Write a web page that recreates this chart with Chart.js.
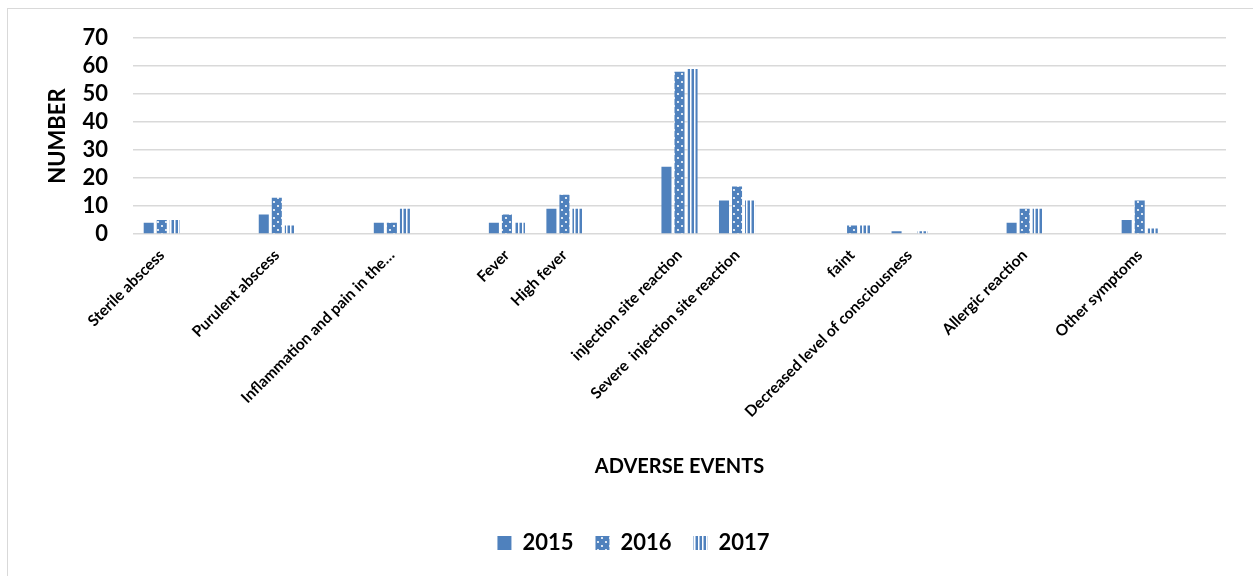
<!DOCTYPE html>
<html>
<head>
<meta charset="utf-8">
<script src="https://cdn.jsdelivr.net/npm/chart.js@4/dist/chart.umd.min.js"></script>
<style>
  html, body { margin: 0; padding: 0; background: #ffffff; }
  #wrap { position: absolute; left: 0; top: 0; width: 1253px; height: 576px; }
</style>
</head>
<body>
<div id="wrap"><canvas id="c" width="1253" height="576"></canvas></div>
<script>
// Categories (empty strings are the unlabeled, empty slots in the original chart)
const categories = [
  "Sterile abscess", "", "Purulent abscess", "", "Inflammation and pain in the\u2026", "",
  "Fever", "High fever", "", "injection site reaction", "Severe  injection site reaction", "",
  "faint", "Decreased level of consciousness", "", "Allergic reaction", "", "Other symptoms", ""
];
const seriesNames = ["2015", "2016", "2017"];
const values2015 = [4, null, 7, null, 4, null, 4, 9, null, 24, 12, null, 0, 1, null, 4, null, 5, null];
const values2016 = [5, null, 13, null, 4, null, 7, 14, null, 58, 17, null, 3, 0, null, 9, null, 12, null];
const values2017 = [5, null, 3, null, 9, null, 4, 9, null, 59, 12, null, 3, 1, null, 9, null, 2, null];
const yTicks = [0, 10, 20, 30, 40, 50, 60, 70];

const BLUE = '#4f81bd';

function dotPattern() {
  const c = document.createElement('canvas');
  c.width = 8; c.height = 8;
  const x = c.getContext('2d');
  x.fillStyle = BLUE; x.fillRect(0, 0, 8, 8);
  x.fillStyle = '#ffffff';
  x.beginPath(); x.arc(2, 2, 1.1, 0, Math.PI * 2); x.fill();
  x.beginPath(); x.arc(6, 6, 1.1, 0, Math.PI * 2); x.fill();
  return x.createPattern(c, 'repeat');
}
function stripePattern() {
  const c = document.createElement('canvas');
  c.width = 4; c.height = 4;
  const x = c.getContext('2d');
  x.fillStyle = '#ffffff'; x.fillRect(0, 0, 4, 4);
  x.fillStyle = BLUE; x.fillRect(0, 0, 2, 4);
  x.fillStyle = '#a9c1e0'; x.fillRect(3, 0, 1, 4);
  return x.createPattern(c, 'repeat');
}

const borderPlugin = {
  id: 'outerBorder',
  beforeDraw(chart) {
    const ctx = chart.ctx;
    ctx.save();
    ctx.fillStyle = '#ffffff';
    ctx.fillRect(0, 0, chart.width, chart.height);
    ctx.strokeStyle = '#d9d9d9';
    ctx.lineWidth = 1;
    ctx.strokeRect(7.5, 8.5, 1300, 700);
    ctx.restore();
  }
};

const FONT = 'Lato, "Open Sans", sans-serif';

new Chart(document.getElementById('c'), {
  type: 'bar',
  data: {
    labels: categories,
    datasets: [
      { label: seriesNames[0], data: values2015, backgroundColor: BLUE },
      { label: seriesNames[1], data: values2016, backgroundColor: dotPattern() },
      { label: seriesNames[2], data: values2017, backgroundColor: stripePattern() }
    ]
  },
  options: {
    responsive: false,
    animation: false,
    categoryPercentage: 0.68,
    barPercentage: 0.77,
    layout: { padding: { left: 41, right: 27, top: 38, bottom: 12 } },
    plugins: {
      legend: {
        position: 'bottom',
        labels: {
          color: '#000',
          font: { family: FONT, size: 22, weight: 'bold' },
          boxWidth: 14, boxHeight: 14, padding: 22
        }
      },
      tooltip: { enabled: false }
    },
    scales: {
      x: {
        grid: { display: false, drawTicks: false },
        border: { display: false },
        ticks: {
          color: '#000', autoSkip: false, minRotation: 45, maxRotation: 45, padding: 12,
          font: { family: FONT, size: 15.5, weight: 'bold' }
        },
        title: {
          display: true, text: 'ADVERSE EVENTS', color: '#000',
          font: { family: FONT, size: 20, weight: 'bold' },
          padding: { top: 31, bottom: 31 }
        },
        afterFit(scale) { scale.height = 276; }
      },
      y: {
        min: 0, max: 70,
        afterBuildTicks(scale) { scale.ticks = yTicks.map(v => ({ value: v })); },
        grid: { color: '#d9d9d9', lineWidth: 1.5, drawTicks: false },
        border: { display: false },
        ticks: {
          color: '#000', padding: 25, autoSkip: false,
          font: { family: FONT, size: 22, weight: 'bold' }
        },
        title: {
          display: true, text: 'NUMBER', color: '#000',
          font: { family: FONT, size: 22, weight: 'bold' },
          padding: { top: 4, bottom: 4 }
        },
        afterFit(scale) { scale.width = 92; }
      }
    }
  },
  plugins: [borderPlugin]
});
</script>
</body>
</html>
